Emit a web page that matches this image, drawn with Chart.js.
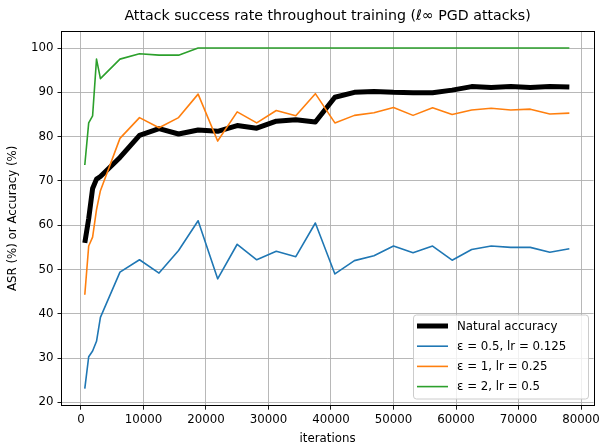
<!DOCTYPE html>
<html>
<head>
<meta charset="utf-8">
<script src="https://cdn.jsdelivr.net/npm/chart.js@4.4.1/dist/chart.umd.min.js"></script>
<style>
  body { margin: 0; background: #fff; }
  canvas { display: block; }
</style>
</head>
<body>
<canvas id="asrChart" width="603" height="446"></canvas>
<script>
// iterations at which each run was evaluated
const iterations = [625, 1250, 1875, 2500, 3125, 6250, 9375, 12500, 15625, 18750, 21875, 25000, 28125,
    31250, 34375, 37500, 40625, 43750, 46875, 50000, 53125, 56250, 59375, 62500, 65625, 68750, 71875, 75000, 78125];

const naturalAcc = [56.0, 61.5, 68.3, 70.4, 71.0, 75.3, 80.3, 81.8, 80.6, 81.5, 81.2, 82.5, 81.9,
    83.5, 83.8, 83.3, 88.9, 90.0, 90.2, 90.0, 89.9, 89.9, 90.5, 91.3, 91.1, 91.3, 91.1, 91.3, 91.2];
const asrEps05 = [23.1, 30.3, 31.6, 33.8, 39.2, 49.4, 52.2, 49.2, 54.3, 61.0, 47.9, 55.7, 52.2,
    54.1, 52.9, 60.5, 49.0, 52.0, 53.1, 55.3, 53.8, 55.3, 52.1, 54.5, 55.3, 55.0, 55.0, 53.9, 54.7];
const asrEps1 = [44.3, 55.3, 57.3, 63.5, 67.8, 79.6, 84.3, 82.0, 84.3, 89.6, 79.0, 85.6, 83.1,
    85.9, 84.7, 89.7, 83.1, 84.8, 85.4, 86.6, 84.8, 86.5, 85.0, 86.0, 86.4, 86.0, 86.2, 85.1, 85.3];
const asrEps2 = [73.6, 83.1, 84.7, 97.5, 93.1, 97.5, 98.7, 98.4, 98.4, 100, 100, 100, 100,
    100, 100, 100, 100, 100, 100, 100, 100, 100, 100, 100, 100, 100, 100, 100, 100];

const seriesLabels = ['Natural accuracy', 'ε = 0.5, lr = 0.125', 'ε = 1, lr = 0.25', 'ε = 2, lr = 0.5'];
const xTickValues = [0, 10000, 20000, 30000, 40000, 50000, 60000, 70000, 80000];
const yTickValues = [20, 30, 40, 50, 60, 70, 80, 90, 100];

const FONT = 'DejaVu Sans';

function toPoints(ys) {
    return iterations.map((x, i) => ({ x: x, y: ys[i] }));
}

// top/right spines, title and the matplotlib-style legend
const framePlugin = {
    id: 'frame',
    afterDraw(chart) {
        const ctx = chart.ctx;
        const a = chart.chartArea;
        ctx.save();
        ctx.strokeStyle = '#000';
        ctx.lineWidth = 1;
        ctx.strokeRect(Math.round(a.left) - 0.5, Math.round(a.top) + 0.5,
            Math.round(a.right) - Math.round(a.left) + 1, Math.round(a.bottom) - Math.round(a.top) - 1);

        // title
        ctx.fillStyle = '#000';
        ctx.font = '14.2px "' + FONT + '"';
        ctx.textAlign = 'center';
        ctx.textBaseline = 'middle';
        ctx.fillText('Attack success rate throughout training (ℓ∞ PGD attacks)', (a.left + a.right) / 2, 16);

        // legend
        const bx = 413.5, by = 315, bw = 175, bh = 84, r = 3;
        ctx.beginPath();
        ctx.moveTo(bx + r, by);
        ctx.arcTo(bx + bw, by, bx + bw, by + bh, r);
        ctx.arcTo(bx + bw, by + bh, bx, by + bh, r);
        ctx.arcTo(bx, by + bh, bx, by, r);
        ctx.arcTo(bx, by, bx + bw, by, r);
        ctx.closePath();
        ctx.fillStyle = 'rgba(255,255,255,0.8)';
        ctx.fill();
        ctx.strokeStyle = '#cccccc';
        ctx.lineWidth = 1;
        ctx.stroke();

        ctx.font = '11.8px "' + FONT + '"';
        ctx.textAlign = 'left';
        chart.data.datasets.forEach((ds, i) => {
            const y = 326 + i * 20.2;
            ctx.beginPath();
            ctx.moveTo(417, y);
            ctx.lineTo(448, y);
            ctx.strokeStyle = ds.borderColor;
            ctx.lineWidth = ds.borderWidth;
            ctx.stroke();
            ctx.fillStyle = '#000';
            ctx.fillText(ds.label, 457, y + 0.5);
        });
        ctx.restore();
    }
};

const asrChart = new Chart(document.getElementById('asrChart').getContext('2d'), {
    type: 'line',
    data: {
        datasets: [{
            label: seriesLabels[0],
            data: toPoints(naturalAcc),
            borderColor: '#000000',
            borderWidth: 5,
            order: 4
        }, {
            label: seriesLabels[1],
            data: toPoints(asrEps05),
            borderColor: '#1f77b4',
            borderWidth: 1.6,
            order: 3
        }, {
            label: seriesLabels[2],
            data: toPoints(asrEps1),
            borderColor: '#ff7f0e',
            borderWidth: 1.6,
            order: 2
        }, {
            label: seriesLabels[3],
            data: toPoints(asrEps2),
            borderColor: '#2ca02c',
            borderWidth: 1.6,
            order: 1
        }]
    },
    options: {
        responsive: false,
        animation: false,
        devicePixelRatio: 1,
        elements: {
            point: { radius: 0 },
            line: { tension: 0, fill: false, borderJoinStyle: 'round', borderCapStyle: 'butt' }
        },
        layout: { padding: { top: 31, right: 7, left: 0, bottom: 0 } },
        plugins: {
            legend: { display: false },
            tooltip: { enabled: false }
        },
        scales: {
            x: {
                type: 'linear',
                min: -3100,
                max: 82000,
                afterBuildTicks: scale => { scale.ticks = xTickValues.map(v => ({ value: v })); },
                afterFit: scale => { scale.height = 40.3; },
                ticks: {
                    color: '#000',
                    font: { family: FONT, size: 11.8 },
                    padding: 3,
                    maxRotation: 0,
                    autoSkip: false,
                    callback: v => String(v)
                },
                grid: { color: '#b0b0b0', lineWidth: 0.9, tickColor: '#000', tickLength: 4 },
                border: { display: true, color: '#000', width: 1 },
                title: {
                    display: true,
                    text: 'iterations',
                    color: '#000',
                    font: { family: FONT, size: 11.8 },
                    padding: { top: 1, bottom: 0 }
                }
            },
            y: {
                min: 19.25,
                max: 103.85,
                afterBuildTicks: scale => { scale.ticks = yTickValues.map(v => ({ value: v })); },
                afterFit: scale => { scale.width = 61.5; },
                ticks: {
                    color: '#000',
                    font: { family: FONT, size: 11.8 },
                    padding: 4,
                    autoSkip: false,
                    callback: v => String(v)
                },
                grid: { color: '#b0b0b0', lineWidth: 0.9, tickColor: '#000', tickLength: 4 },
                border: { display: true, color: '#000', width: 1 },
                title: {
                    display: true,
                    text: 'ASR (%) or Accuracy (%)',
                    color: '#000',
                    font: { family: FONT, size: 11.8 },
                    padding: { top: 6, bottom: 0 }
                }
            }
        }
    },
    plugins: [framePlugin]
});
</script>
</body>
</html>
